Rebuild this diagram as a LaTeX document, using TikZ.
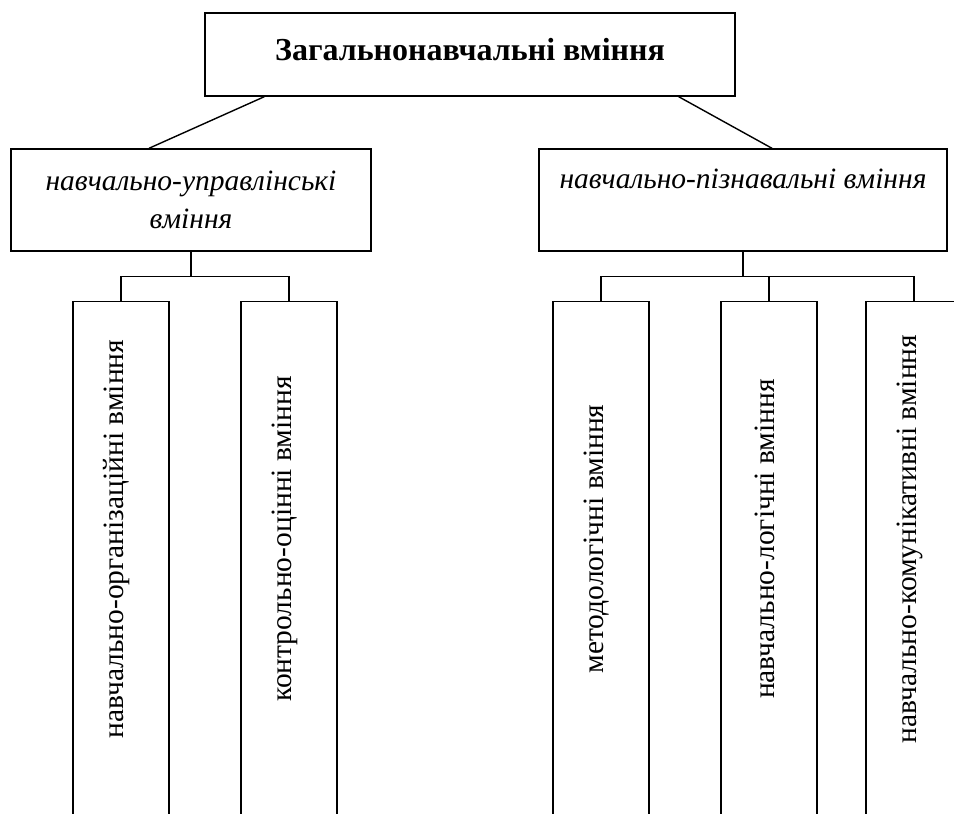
\documentclass[tikz,border=0pt]{standalone}
\usepackage{fontspec}
\setmainfont{Liberation Serif}
\usetikzlibrary{positioning,calc}

\begin{document}
\begin{tikzpicture}[
        x=1pt, y=-1pt,
        line width=1.4pt,
        topbox/.style={
            rectangle, draw, minimum width=530pt, minimum height=83pt,
            text height=20pt, text depth=9pt,
            font=\fontsize{32}{36}\selectfont\bfseries
        },
        midbox/.style={
            rectangle, draw, minimum height=102pt, align=center,
            font=\fontsize{29.5}{38}\selectfont\itshape
        },
        vbox/.style={
            rectangle, draw, minimum width=96pt, minimum height=560pt,
            anchor=north
        },
        vtext/.style={
            rotate=90, font=\fontsize{29.5}{34}\selectfont
        },
        link/.style={black},
    ]

    \useasboundingbox (0,0) rectangle (954,814);

    % ── Top ──
    \node[topbox] (top) at (470,54.5) {Загальнонавчальні вміння};

    % ── Second level ──
    \node[midbox, minimum width=360pt] (upr) at (191,200)
        {навчально-управлінські\\вміння};
    \node[midbox, minimum width=408pt, text height=22pt, text depth=46pt] (piz) at (743,200)
        {навчально-пізнавальні вміння};

    % ── Third level, left ──
    \node[vbox] (org) at (121,301) {};
    \node[vtext] (orgtxt) at ([xshift=-4pt, yshift=-238pt]org.north) {навчально-організаційні вміння};
    \node[vbox] (kontr) at (289,301) {};
    \node[vtext] (kontrtxt) at ([xshift=-4pt, yshift=-238pt]kontr.north) {контрольно-оцінні вміння};

    % ── Third level, right ──
    \node[vbox] (metod) at (601,301) {};
    \node[vtext] (metodtxt) at ([xshift=-4pt, yshift=-238pt]metod.north) {методологічні вміння};
    \node[vbox] (logic) at (769,301) {};
    \node[vtext] (logictxt) at ([xshift=-4pt, yshift=-238pt]logic.north) {навчально-логічні вміння};
    \node[vbox] (komun) at (914,301) {};
    \node[vtext] (komuntxt) at ([xshift=-4pt, yshift=-238pt]komun.north) {навчально-комунікативні вміння};

    % ── Links ──
    \draw[link] ([xshift=60pt]top.south west) -- ([xshift=-42pt]upr.north);
    \draw[link] ([xshift=-57pt]top.south east) -- ([xshift=29pt]piz.north);

    \draw[link] (upr.south) -- ++(0,25) coordinate (uprfork);
    \draw[link] (org.north) |- (uprfork) -| (kontr.north);

    \draw[link] (piz.south) -- ++(0,25) coordinate (pizfork);
    \draw[link] (metod.north) |- (pizfork) -| (komun.north);
    \draw[link] (logic.north) -- (logic.north |- pizfork);

\end{tikzpicture}
\end{document}
